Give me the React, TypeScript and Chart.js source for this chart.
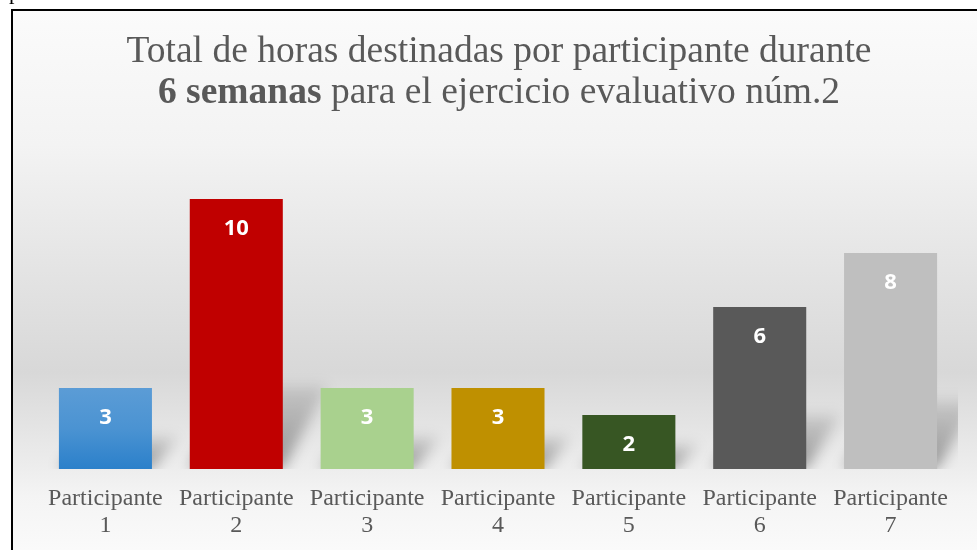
import React, { useEffect, useRef } from "react";
import { Chart, registerables } from "chart.js";

Chart.register(...registerables);

const categories = [
  "Participante 1",
  "Participante 2",
  "Participante 3",
  "Participante 4",
  "Participante 5",
  "Participante 6",
  "Participante 7",
];
const hours = [3, 10, 3, 3, 2, 6, 8];
const barColors = ["#5b9bd5", "#c00000", "#a9d18e", "#bf9000", "#375623", "#595959", "#bfbfbf"];
const titleLine1 = "Total de horas destinadas por participante durante";
const titleLine2Bold = "6 semanas";
const titleLine2Rest = " para el ejercicio evaluativo núm.2";

const W = 977;
const H = 550;
const TEXT = "#595959";
const SERIF = "'Liberation Serif', 'Times New Roman', serif";

const backgroundPlugin = {
  id: "bgBox",
  beforeDraw(chart: any) {
    const ctx = chart.ctx;
    ctx.save();
    const g = ctx.createLinearGradient(0, 10, 0, H);
    g.addColorStop(0, "#fbfbfb");
    g.addColorStop(0.25, "#f3f3f3");
    g.addColorStop(0.45, "#e6e6e6");
    g.addColorStop(0.67, "#d8d8d8");
    g.addColorStop(0.84, "#ececec");
    g.addColorStop(0.9, "#f4f4f4");
    g.addColorStop(1, "#fafafa");
    ctx.fillStyle = g;
    ctx.fillRect(12, 10, W, H);
    ctx.strokeStyle = "#000";
    ctx.lineWidth = 2;
    ctx.strokeRect(12, 10, W + 20, H + 20);
    ctx.restore();
  },
};

const shadowPlugin = {
  id: "barShadows",
  beforeDatasetsDraw(chart: any) {
    const ctx = chart.ctx;
    const area = chart.chartArea;
    const meta = chart.getDatasetMeta(0);
    ctx.save();
    ctx.beginPath();
    ctx.rect(area.left, area.top, area.right - area.left + 2, area.bottom - area.top);
    ctx.clip();
    ctx.filter = "blur(7px)";
    meta.data.forEach((el: any) => {
      const { x, y, base, width } = el.getProps(["x", "y", "base", "width"], true);
      const h = base - y;
      const shift = 18 + 0.1 * h;
      const hs = 10 + 0.27 * h;
      const xl = x - width / 2;
      const xr = x + width / 2;
      const g = ctx.createLinearGradient(0, base, 0, base - hs);
      g.addColorStop(0, "rgba(0,0,0,0.38)");
      g.addColorStop(1, "rgba(0,0,0,0.1)");
      ctx.fillStyle = g;
      ctx.beginPath();
      ctx.moveTo(xl, base);
      ctx.lineTo(xr, base);
      ctx.lineTo(xr + shift, base - hs);
      ctx.lineTo(xl + shift, base - hs);
      ctx.closePath();
      ctx.fill();
    });
    ctx.restore();
  },
};

const valueLabelPlugin = {
  id: "valueLabels",
  afterDatasetsDraw(chart: any) {
    const ctx = chart.ctx;
    const meta = chart.getDatasetMeta(0);
    const data = chart.data.datasets[0].data;
    ctx.save();
    ctx.fillStyle = "#ffffff";
    ctx.font = "bold 22px 'Open Sans', 'Noto Sans', sans-serif";
    ctx.textAlign = "center";
    ctx.textBaseline = "middle";
    meta.data.forEach((el: any, i: number) => {
      ctx.fillText(String(data[i]), el.x, el.y + 30);
    });
    ctx.restore();
  },
};

const titlePlugin = {
  id: "mixedTitle",
  afterDraw(chart: any) {
    const ctx = chart.ctx;
    const cx = 499;
    const fs = 37.5;
    ctx.save();
    ctx.fillStyle = TEXT;
    ctx.textBaseline = "alphabetic";
    ctx.textAlign = "center";
    ctx.font = `${fs}px ${SERIF}`;
    ctx.fillText(titleLine1, cx, 62);
    ctx.textAlign = "left";
    ctx.font = `bold ${fs}px ${SERIF}`;
    const wb = ctx.measureText(titleLine2Bold).width;
    ctx.font = `${fs}px ${SERIF}`;
    const wr = ctx.measureText(titleLine2Rest).width;
    const x0 = cx - (wb + wr) / 2;
    ctx.font = `bold ${fs}px ${SERIF}`;
    ctx.fillText(titleLine2Bold, x0, 103);
    ctx.font = `${fs}px ${SERIF}`;
    ctx.fillText(titleLine2Rest, x0 + wb, 103);
    ctx.restore();
  },
};

export default function App() {
  const ref = useRef<HTMLCanvasElement | null>(null);

  useEffect(() => {
    if (!ref.current) return;
    const chart = new Chart(ref.current, {
      type: "bar",
      data: {
        labels: categories,
        datasets: [
          {
            data: hours,
            backgroundColor: (c: any) => {
              const i = c.dataIndex;
              if (i === 0 && c.chart.chartArea) {
                const ys = c.chart.scales.y;
                const g = c.chart.ctx.createLinearGradient(
                  0,
                  ys.getPixelForValue(hours[0]),
                  0,
                  ys.getPixelForValue(0)
                );
                g.addColorStop(0, "#5b9cd6");
                g.addColorStop(0.5, "#4b93d2");
                g.addColorStop(1, "#2b80ca");
                return g;
              }
              return barColors[i];
            },
            borderWidth: 0,
            barPercentage: 0.711,
            categoryPercentage: 1,
          },
        ],
      },
      options: {
        responsive: false,
        animation: false,
        layout: { padding: { left: 40, right: 21, top: 145, bottom: 0 } },
        plugins: {
          legend: { display: false },
          title: { display: false },
          tooltip: { enabled: false },
        },
        scales: {
          x: {
            grid: { display: false },
            border: { display: false },
            ticks: {
              color: TEXT,
              padding: 8,
              maxRotation: 0,
              autoSkip: false,
              font: { family: SERIF, size: 24, lineHeight: "27px" } as any,
              callback: function (this: any, value: any) {
                return String(this.getLabelForValue(value)).split(" ");
              },
            },
            afterFit: (s: any) => {
              s.height = H - 469;
            },
          },
          y: {
            display: false,
            min: 0,
            max: 12,
          },
        },
      },
      plugins: [backgroundPlugin, shadowPlugin, valueLabelPlugin, titlePlugin],
    });
    return () => chart.destroy();
  }, []);

  return (
    <div
      style={{
        position: "fixed",
        left: 0,
        top: 0,
        width: W,
        height: H,
        overflow: "hidden",
        background: "#ffffff",
      }}
    >
      <canvas ref={ref} width={W} height={H} style={{ display: "block", width: W, height: H }} />
      <span
        style={{
          position: "absolute",
          left: 9,
          top: -21,
          fontFamily: SERIF,
          fontSize: 22,
          lineHeight: "normal",
          color: "#000",
        }}
      >
        p
      </span>
    </div>
  );
}
